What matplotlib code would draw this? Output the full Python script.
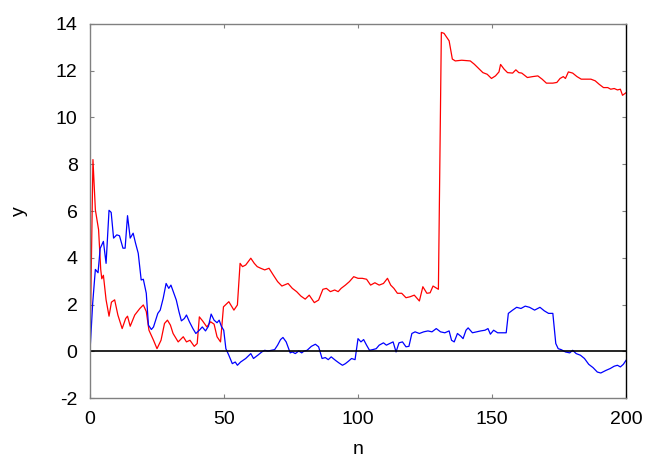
import matplotlib
matplotlib.use("Agg")
import matplotlib.pyplot as plt

plt.rcParams['font.family'] = ['Liberation Sans', 'DejaVu Sans']
plt.rcParams['axes.unicode_minus'] = False

# red series (n, y)
red_n = [0, 1.1, 2, 3.2, 4, 4.4, 5, 6, 7.1, 8, 9.2, 10.4, 12, 13.3, 14, 15, 16.7, 18.6, 19.9, 21,
         22, 23.7, 25, 26.5, 27.8, 28.9, 30, 31, 32.9, 34.8, 36, 37.3, 38.9, 40, 40.8, 42, 43.6, 45,
         46.3, 47.4, 48.7, 49.8, 51.8, 53.7, 55, 56, 56.9, 58.1, 60, 61.3, 62.4, 63.7, 65.2, 66.8,
         68.4, 70, 71.6, 73.9, 75.5, 77.1, 78.7, 80.3, 81.8, 83.7, 85.3, 86.9, 88.2, 89.7, 91.3,
         92.6, 93.7, 95.3, 96.8, 98.4, 100, 101.6, 103.2, 104.7, 106.3, 107.9, 109.5, 111, 112.2,
         113.4, 114.7, 116.3, 117.9, 119.4, 121, 122.9, 124.2, 125.7, 126.9, 128, 130, 131.1,
         132.1, 134, 135.2, 136.3, 138.7, 141.9, 143.4, 145, 146.6, 148.2, 149.8, 151.3, 152.6,
         153.2, 154.5, 155.8, 157.7, 158.9, 160, 161.1, 163.2, 165.2, 167.1, 168.7, 170.3, 172.7,
         174.2, 175.4, 176.6, 177.4, 178.5, 180.1, 181.7, 183.3, 185.3, 186.9, 188.5, 190, 191.6,
         193.2, 194.3, 195.6, 196.8, 197.9, 198.7, 200]
red_y = [0, 8.2, 6.05, 5.2, 3.5, 3.1, 3.25, 2.2, 1.5, 2.1, 2.2, 1.55, 0.97, 1.4, 1.5, 1.07, 1.55,
         1.83, 1.98, 1.7, 0.9, 0.47, 0.11, 0.47, 1.19, 1.33, 1.12, 0.76, 0.4, 0.62, 0.4, 0.47, 0.21,
         0.33, 1.47, 1.3, 1.04, 1.26, 1.16, 0.62, 0.4, 1.9, 2.12, 1.76, 1.98, 3.76, 3.62, 3.69, 3.98,
         3.76, 3.62, 3.55, 3.48, 3.55, 3.26, 2.98, 2.79, 2.9, 2.69, 2.55, 2.36, 2.23, 2.4, 2.08,
         2.19, 2.65, 2.69, 2.55, 2.62, 2.55, 2.69, 2.83, 2.98, 3.19, 3.12, 3.12, 3.08, 2.83, 2.93,
         2.83, 2.9, 3.12, 2.83, 2.69, 2.48, 2.48, 2.29, 2.33, 2.4, 2.15, 2.76, 2.48, 2.5, 2.79,
         2.65, 13.64, 13.6, 13.28, 12.5, 12.42, 12.45, 12.42, 12.28, 12.1, 11.92, 11.85, 11.67,
         11.78, 11.95, 12.27, 12.07, 11.92, 11.9, 12.04, 11.92, 11.9, 11.71, 11.75, 11.78, 11.64,
         11.47, 11.47, 11.5, 11.67, 11.75, 11.67, 11.95, 11.9, 11.75, 11.64, 11.64, 11.64, 11.57,
         11.42, 11.28, 11.28, 11.21, 11.24, 11.18, 11.21, 10.95, 11.06]

# blue series
blue_n = [0, 1, 2, 3, 3.8, 5, 6, 7.1, 7.9, 8.8, 10, 11, 12.3, 13.1, 14, 15, 16.1, 17, 18, 19.1,
          19.9, 21, 21.8, 22.9, 23.7, 25.3, 26.2, 27.3, 28.4, 29.4, 30.2, 31.3, 32.2, 33.2, 34.1,
          35.2, 36, 37.1, 38.4, 39.5, 40.8, 41.9, 43.1, 44.2, 45.2, 46.3, 47.4, 48.2, 49, 49.9,
          50.7, 51.8, 53.1, 54.2, 55, 56.2, 58.1, 60, 61, 62.6, 64.1, 65.2, 66.4, 67.6, 68.9, 70,
          71.1, 72, 73.2, 74.7, 75.5, 76.6, 77.9, 79, 79.9, 81, 82.6, 84.1, 85.3, 86.6, 87.8, 88.9,
          90, 91.6, 92.9, 94.2, 95.3, 96.4, 97.6, 98.9, 100, 101.1, 102.1, 103.2, 104.3, 105.5,
          106.8, 107.9, 109.5, 110.6, 111.8, 113.1, 114.2, 115.3, 116.6, 117.9, 119, 120.1, 121.3,
          122.9, 124.5, 126.1, 127.6, 129.2, 130.8, 132.4, 134, 134.9, 135.9, 137.1, 138.4, 139.2,
          140.3, 141.1, 142.7, 144.2, 145.8, 147.4, 148.5, 149.4, 150.6, 152.1, 153.7, 155.3,
          156.1, 157.7, 159.2, 160.8, 162.4, 164, 165.9, 167.9, 169.5, 171.1, 172.7, 173.8, 174.7,
          175.8, 177.4, 179, 180.1, 181.4, 183, 184.5, 186.1, 187.7, 189.3, 190.6, 192.5, 194.1,
          195.6, 196.8, 197.9, 199, 200]
blue_y = [0, 2.05, 3.5, 3.36, 4.4, 4.7, 3.76, 6.03, 5.94, 4.84, 4.98, 4.94, 4.41, 4.41, 5.8, 4.84,
          5.05, 4.62, 4.19, 3.05, 3.08, 2.48, 1.12, 0.93, 1.04, 1.62, 1.76, 2.26, 2.9, 2.69, 2.83,
          2.48, 2.19, 1.69, 1.3, 1.4, 1.55, 1.26, 0.97, 0.76, 0.9, 1.04, 0.87, 1.07, 1.59, 1.33,
          1.22, 1.33, 1.07, 0.9, 0.11, -0.17, -0.53, -0.46, -0.6, -0.46, -0.31, -0.1, -0.31, -0.17,
          -0.03, 0.04, 0.01, 0.04, 0.07, 0.26, 0.5, 0.59, 0.4, -0.07, -0.03, -0.1, 0.01, -0.07,
          0.01, 0.04, 0.21, 0.3, 0.19, -0.31, -0.27, -0.36, -0.24, -0.39, -0.5, -0.6, -0.53, -0.43,
          -0.31, -0.36, 0.54, 0.4, 0.5, 0.26, 0.04, 0.07, 0.11, 0.26, 0.36, 0.26, 0.33, 0.4, -0.03,
          0.36, 0.4, 0.19, 0.21, 0.76, 0.83, 0.76, 0.83, 0.87, 0.83, 0.97, 0.83, 0.79, 0.87, 0.47,
          0.4, 0.76, 0.64, 0.54, 0.9, 1.0, 0.79, 0.83, 0.87, 0.9, 0.97, 0.73, 0.9, 0.79, 0.79, 0.79,
          1.62, 1.76, 1.88, 1.83, 1.93, 1.88, 1.76, 1.88, 1.73, 1.62, 1.62, 0.33, 0.11, 0.07, -0.03,
          -0.07, 0.04, -0.1, -0.17, -0.31, -0.56, -0.7, -0.89, -0.93, -0.82, -0.74, -0.64, -0.6,
          -0.67, -0.56, -0.39]

xticks = [0, 50, 100, 150, 200]
yticks = [-2, 0, 2, 4, 6, 8, 10, 12, 14]

fig = plt.figure(figsize=(6.64, 4.65), dpi=100)
ax = fig.add_axes([90 / 664, 1 - 398 / 465, 536 / 664, 374 / 465])

ax.plot(red_n, red_y, color="#ff0000", lw=0.9)
ax.plot(blue_n, blue_y, color="#0000ff", lw=0.9)
ax.axhline(0, color="black", lw=1.2)

ax.set_xlim(0, 200)
ax.set_ylim(-2, 14)
ax.set_xticks(xticks)
ax.set_yticks(yticks)
ax.tick_params(direction="in", length=3, width=0.8, top=True, right=True,
               labelsize=14, pad=9, color="#808080")
ax.set_xlabel("n", fontsize=14, labelpad=10)
ax.set_ylabel("y", fontsize=14, labelpad=20, rotation=90)
for side in ["left", "bottom", "top"]:
    ax.spines[side].set_color("#808080")
ax.spines["right"].set_color("black")
for s in ax.spines.values():
    s.set_linewidth(1.0)

fig.savefig("out.png", dpi=100)
